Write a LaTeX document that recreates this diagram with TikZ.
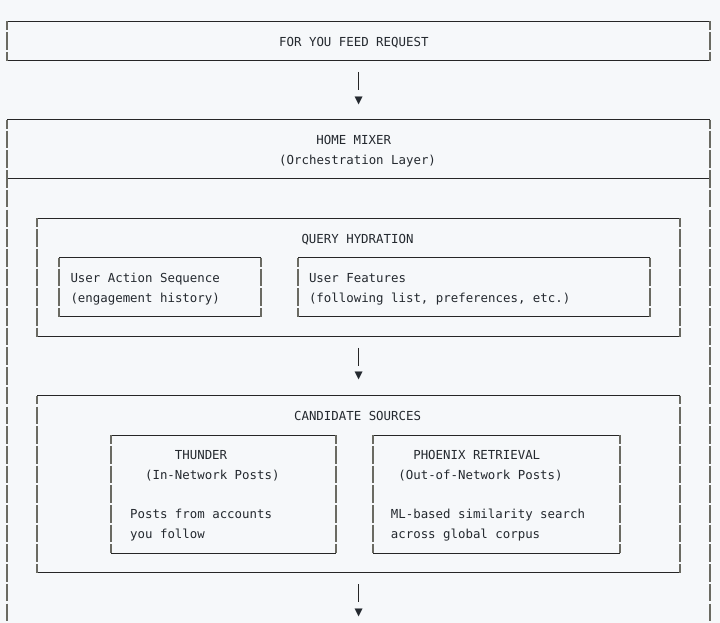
\documentclass[tikz,border=0pt]{standalone}
\usepackage{fontspec}
\setmonofont{DejaVu Sans Mono}
\definecolor{bg}{HTML}{F6F8FA}
\definecolor{ink}{HTML}{24292F}
\definecolor{hl}{HTML}{262626}
\definecolor{vl}{HTML}{6A6A62}
\newcommand\asciibox[1]{%
  \draw[hline] (#1.north west) -- (#1.north east);
  \draw[hline] (#1.south west) -- (#1.south east);
  \draw[vside] (#1.north west) -- (#1.south west);
  \draw[vside] (#1.north east) -- (#1.south east);}
\begin{document}
\begin{tikzpicture}[x=1pt,y=-1pt,
  txt/.style={anchor=base west,inner sep=0,text=ink,font=\ttfamily\fontsize{12.4}{14}\selectfont},
  tri/.style={anchor=center,inner sep=0,text=ink,font=\ttfamily\fontsize{13.5}{15}\selectfont},
  hline/.style={draw=hl,line width=1pt},
  vside/.style={draw=vl,line width=1.4pt,dash pattern=on 17.6pt off 2.1pt,dash phase=8.8pt},
  conn/.style={draw=hl,line width=1.2pt},
  frame/.style={draw=none,inner sep=0,outer sep=0,rectangle},
]
\fill[bg] (0,0) rectangle (720,623);
\useasboundingbox (0,0) rectangle (720,623);

% ---- boxes ----
\node[frame,minimum width=703pt,minimum height=39.4pt] (req) at (358.5,41) {};
\node[frame,minimum width=703pt,minimum height=59.1pt] (mixer) at (358.5,149.35) {};
\node[frame,minimum width=643pt,minimum height=118.2pt] (qh) at (358.5,277.4) {};
\node[frame,minimum width=202pt,minimum height=59.1pt] (uas) at (160,287.25) {};
\node[frame,minimum width=352pt,minimum height=59.1pt] (uf) at (474,287.25) {};
\node[frame,minimum width=643pt,minimum height=177.3pt] (cs) at (358.5,484.25) {};
\node[frame,minimum width=225pt,minimum height=118.2pt] (th) at (223.5,494.1) {};
\node[frame,minimum width=247pt,minimum height=118.2pt] (ph) at (496.5,494.1) {};
\coordinate (bot) at (358.5,623);

\asciibox{req}
\asciibox{qh}
\asciibox{uas}
\asciibox{uf}
\asciibox{cs}
\asciibox{th}
\asciibox{ph}
% home mixer: open at the bottom
\draw[hline] (mixer.north west) -- (mixer.north east);
\draw[hline] (mixer.south west) -- (mixer.south east);
\draw[vside] (mixer.north west) -- (mixer.north west |- bot);
\draw[vside] (mixer.north east) -- (mixer.north east |- bot);

% ---- texts ----
\node[txt] (treq) at (279,46.3) {FOR YOU FEED REQUEST};
\node[txt] (tmix1) at (316.2,144.5) {HOME MIXER};
\node[txt] (tmix2) at (279,164.2) {(Orchestration Layer)};
\node[txt] (tqh) at (301.3,243) {QUERY HYDRATION};
\node[txt] (tuas1) at (70.3,282.4) {User Action Sequence};
\node[txt] (tuas2) at (70.3,302.1) {(engagement history)};
\node[txt] (tuf1) at (308.8,282.4) {User Features};
\node[txt] (tuf2) at (308.8,302.1) {(following list, preferences, etc.)};
\node[txt] (tcs) at (293.9,420.3) {CANDIDATE SOURCES};
\node[txt] (tth1) at (174.7,459.7) {THUNDER};
\node[txt] (tth2) at (144.9,479.4) {(In-Network Posts)};
\node[txt] (tth3) at (130,518.8) {Posts from accounts};
\node[txt] (tth4) at (130,538.5) {you follow};
\node[txt] (tph1) at (413.1,459.7) {PHOENIX RETRIEVAL};
\node[txt] (tph2) at (398.2,479.4) {(Out-of-Network Posts)};
\node[txt] (tph3) at (390.7,518.8) {ML-based similarity search};
\node[txt] (tph4) at (390.7,538.5) {across global corpus};

% ---- connectors ----
\coordinate (a1s) at (358.7,72);
\coordinate (a1e) at (358.7,90);
\draw[conn] (a1s) -- (a1e);
\node[tri] (a1t) at (358.7,100.5) {▼};
\coordinate (a2s) at (358.7,347.8);
\coordinate (a2e) at (358.7,365.8);
\draw[conn] (a2s) -- (a2e);
\node[tri] (a2t) at (358.7,376.3) {▼};
\coordinate (a3s) at (358.7,584.2);
\coordinate (a3e) at (358.7,602.2);
\draw[conn] (a3s) -- (a3e);
\node[tri] (a3t) at (358.7,612.7) {▼};
\end{tikzpicture}
\end{document}
